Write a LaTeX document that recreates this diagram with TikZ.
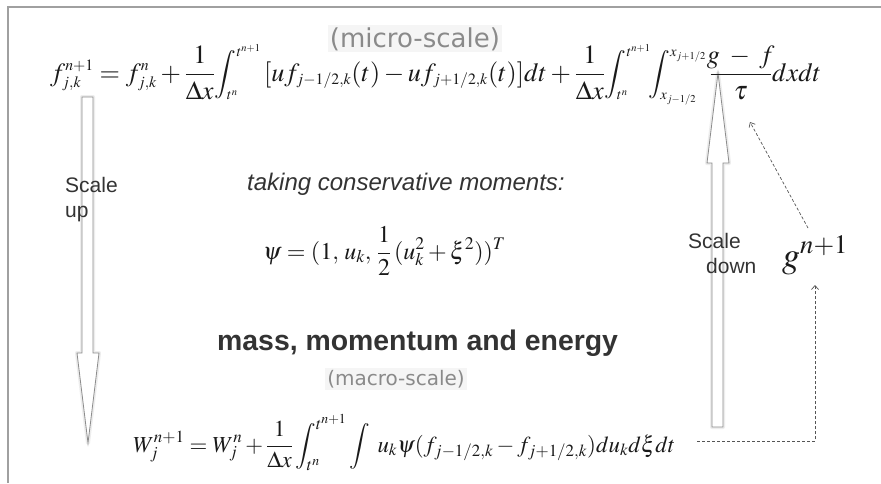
\documentclass[tikz,border=0pt]{standalone}
\usepackage{mathptmx}
\usepackage[no-math]{fontspec}
\setmainfont{Liberation Serif}
\setsansfont{Liberation Sans}
\newfontfamily\labelfont{DejaVu Sans}
\usepackage{graphicx}
\usetikzlibrary{arrows.meta}
\DeclareMathSizes{25}{25}{15}{11}
\DeclareMathSizes{23}{23}{14}{10}
\definecolor{eqcol}{HTML}{1A1A1A}
\definecolor{txtcol}{HTML}{333333}
\definecolor{lightcol}{HTML}{8A8A8A}
\definecolor{framecol}{HTML}{A0A0A0}
\definecolor{arrowcol}{HTML}{8C8C8C}
\definecolor{dashcol}{HTML}{555555}
\newcommand{\myintpart}[1]{\mbox{\fontsize{23}{27}\selectfont$\displaystyle #1$}}
\tikzset{
  blockshadow/.style={draw=black!7, line width=4pt, line join=round},
  blockarrow/.style={draw=arrowcol, line width=0.8pt, fill=white},
  dasharrow/.style={draw=dashcol, line width=0.7pt, dash pattern=on 3pt off 2pt, -{Straight Barb[length=4pt,width=7pt]}},
  eqnode/.style={inner sep=0pt, text=eqcol},
  sanstext/.style={inner sep=0pt, font=\sffamily\fontsize{21}{25}\selectfont, text=txtcol, align=left},
  scalelabel/.style={inner sep=2pt, text=lightcol, fill=black!4},
}
\begin{document}
\begin{tikzpicture}[x=1pt,y=-1pt]
\useasboundingbox (0,0) rectangle (881,483);
\fill[white] (0,0) rectangle (881,483);
% frame
\draw[framecol, line width=1.5pt] (8,483) -- (8,7) -- (881,7);

% block arrows
\draw[blockshadow] (82,97) -- (93,97) -- (93,353) -- (99,353) -- (88,443) -- (77,353) -- (82,353) -- cycle;
\draw[blockarrow] (82,97) -- (93,97) -- (93,353) -- (99,353) -- (88,443) -- (77,353) -- (82,353) -- cycle;
\draw[blockshadow] (712,427) -- (723,427) -- (723,163) -- (729,163) -- (718,73) -- (707,163) -- (712,163) -- cycle;
\draw[blockarrow] (712,427) -- (723,427) -- (723,163) -- (729,163) -- (718,73) -- (707,163) -- (712,163) -- cycle;

% labels
\node[scalelabel, font=\labelfont\fontsize{26}{30}\selectfont, anchor=base] (micro) at (415,47) {(micro-scale)};

\node[eqnode, anchor=base west] (feq) at (50,81) {\resizebox{771pt}{!}{\fontsize{25}{29}\selectfont$\displaystyle
f_{j,k}^{n+1}=f_{j,k}^{n}+\frac{1}{\Delta x}\myintpart{\int_{t^{n}}^{t^{n+1}}}\,[uf_{j-1/2,k}(t)-uf_{j+1/2,k}(t)]dt+\frac{1}{\Delta x}\myintpart{\int_{t^{n}}^{t^{n+1}}\!\!\int_{x_{j-1/2}}^{x_{j+1/2}}}\,\frac{\makebox[2.3em]{$g\;-\;f$}}{\tau}dxdt$}};

\node[sanstext, anchor=base west] (up) at (65,217) {Scale\\up};
\node[sanstext, anchor=base west] (down) at (688,273) {Scale\\\hspace*{18pt}down};

\node[inner sep=0pt, anchor=base west, font=\sffamily\itshape\fontsize{24}{28}\selectfont, text=txtcol] (taking) at (247,190) {taking conservative moments:};

\node[eqnode, anchor=base west] (psi) at (263,259) {\fontsize{24}{28}\selectfont$\displaystyle \psi=(1,\,u_{k},\,\frac{1}{2}\,(u_{k}^{2}+\xi^{2}))^{T}$};

\node[inner sep=0pt, anchor=base west, font=\sffamily\bfseries\fontsize{28.4}{32}\selectfont, text=txtcol] (mass) at (217,350) {mass, momentum and energy};

\node[scalelabel, font=\labelfont\fontsize{20}{24}\selectfont, anchor=base] (macro) at (396,385) {(macro-scale)};

\node[eqnode, anchor=base west] (weq) at (133,452) {\resizebox{542pt}{!}{\fontsize{24}{28}\selectfont$\displaystyle
W_{j}^{n+1}=W_{j}^{n}+\frac{1}{\Delta x}\int_{t^{n}}^{t^{n+1}}\int\; u_{k}\psi(f_{j-1/2,k}-f_{j+1/2,k})du_{k}d\xi dt$}};

\node[eqnode, anchor=base west] (g) at (782,267) {\fontsize{36}{40}\selectfont$g^{n+1}$};

% dashed connectors
\coordinate (gtop) at (808,228);
\coordinate (tau) at (750,122);
\coordinate (wend) at (697,441);
\coordinate (corner) at (815,441);
\coordinate (gbot) at (815,285);
\draw[dasharrow] (gtop) -- (tau);
\draw[dasharrow] (wend) -- (corner) -- (gbot);
\end{tikzpicture}
\end{document}
